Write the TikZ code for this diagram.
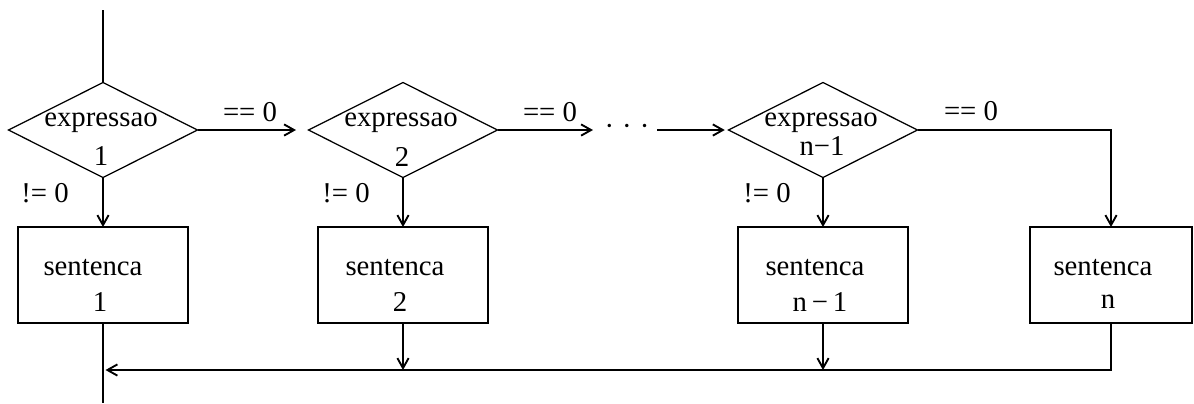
\documentclass[tikz,border=0pt]{standalone}
\usepackage{fontspec}
\setmainfont{Liberation Serif}
\usetikzlibrary{shapes.geometric,arrows.meta}
\begin{document}
\begin{tikzpicture}[x=0.4pt,y=-0.4pt,
  dia/.style={draw,shape=diamond,inner sep=0pt,outer sep=0pt,minimum width=75.6pt,minimum height=38pt,line width=0.5pt},
  box/.style={draw,rectangle,inner sep=0pt,outer sep=0pt,minimum width=68pt,minimum height=38.4pt,line width=0.75pt},
  lbl/.style={inner sep=0pt,font=\fontsize{11.5}{13.6}\selectfont},
  conn/.style={line width=0.75pt},
  arr/.style={conn,-{Straight Barb[length=4pt,width=4.5pt]}}]
\useasboundingbox (0,0) rectangle (1194,403);

% decisions
\node[dia] (d1) at (103,130) {};
\node[dia] (d2) at (403,130) {};
\node[dia] (d3) at (823,130) {};
\node[lbl] (d1a) at (101,123) {expressao};
\node[lbl] (d1b) at (101,156) {1};
\node[lbl] (d2a) at (401,123) {expressao};
\node[lbl] (d2b) at (402,157) {2};
\node[lbl] (d3a) at (821,123) {expressao};
\node[lbl] (d3b) at (822,146) {n−1};

% statements
\node[box] (s1) at (103,275) {};
\node[box] (s2) at (403,275) {};
\node[box] (s3) at (823,275) {};
\node[box,minimum width=64.8pt] (s4) at (1111,275) {};
\node[lbl] (s1a) at (93,268) {sentenca};
\node[lbl] (s1b) at (100,302) {1};
\node[lbl] (s2a) at (395,268) {sentenca};
\node[lbl] (s2b) at (400,302) {2};
\node[lbl] (s3a) at (815,268) {sentenca};
\node[lbl] (s3b) at (820,302) {n{\,}−{\,}1};
\node[lbl] (s4a) at (1103,268) {sentenca};
\node[lbl] (s4b) at (1108,302) {n};

% labels
\node[lbl] (e1) at (250,112) {== 0};
\node[lbl] (e2) at (550,112) {== 0};
\node[lbl] (e3) at (971,111) {== 0};
\node[lbl] (n1) at (45,193) {!= 0};
\node[lbl] (n2) at (346,193) {!= 0};
\node[lbl] (n3) at (767,193) {!= 0};
\node[lbl] (dots) at (627,130) {·\hspace{3.2pt}·\hspace{3.2pt}·};

% coordinates
\coordinate (top) at (103,10);
\coordinate (bot) at (103,403);
\coordinate (a2) at (593,130);
\coordinate (a3) at (657,130);
\coordinate (j) at (103,370);

% connectors
\draw[conn] (top) -- (d1.north);
\draw[arr,shorten >=5pt] (d1.east) -- (d2.west);
\draw[arr] (d2.east) -- (a2);
\draw[arr,shorten >=1.5pt] (a3) -- (d3.west);
\draw[arr] (d3.east) -| (s4.north);
\draw[arr] (d1.south) -- (s1.north);
\draw[arr] (d2.south) -- (s2.north);
\draw[arr] (d3.south) -- (s3.north);
\draw[conn] (s1.south) -- (bot);
\draw[arr,shorten >=1pt] (s4.south) |- (j);
\draw[arr] (s2.south) -- (s2.south |- j);
\draw[arr] (s3.south) -- (s3.south |- j);
\end{tikzpicture}
\end{document}
